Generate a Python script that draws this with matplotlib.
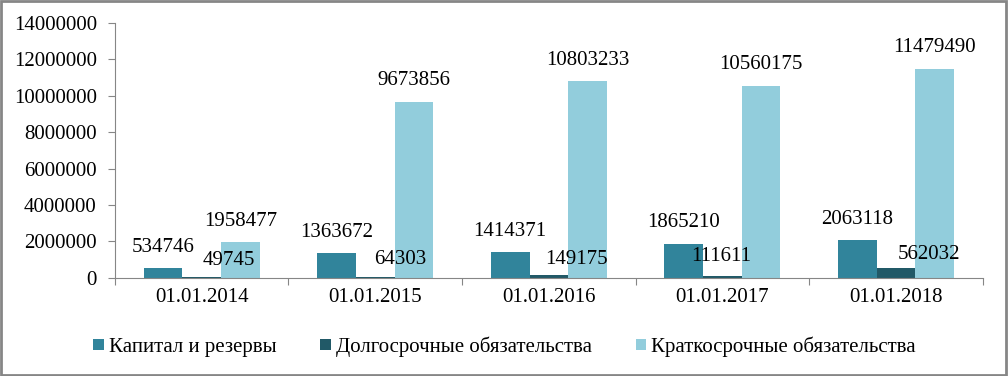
import numpy as np
import matplotlib.pyplot as plt
from matplotlib.ticker import FixedLocator, NullFormatter

# ======================
# Data
# ======================
dates = ["01.01.2014", "01.01.2015", "01.01.2016", "01.01.2017", "01.01.2018"]
capital = [534746, 1363672, 1414371, 1865210, 2063118]
long_term = [49745, 64303, 149175, 111611, 562032]
short_term = [1958477, 9673856, 10803233, 10560175, 11479490]
series_names = ["Капитал и резервы", "Долгосрочные обязательства", "Краткосрочные обязательства"]

# label nudges for the long-term series (pixels), as placed in the source chart
lt_dx = [27, 25, 28, -1, 33]
lt_dy = [16, 17, 16, 19, 13]

colors = ["#31849B", "#215967", "#92CDDC"]

plt.rcParams['font.family'] = ['Liberation Serif', 'DejaVu Serif']
FS = 15

fig = plt.figure(figsize=(10.08, 3.76), dpi=100)
ax = fig.add_axes([0.114, 0.261, 0.861, 0.678])

x = np.arange(len(dates))
w = 0.223
b1 = ax.bar(x - w, capital, w, color=colors[0], label=series_names[0])
b2 = ax.bar(x, long_term, w, color=colors[1], label=series_names[1])
b3 = ax.bar(x + w, short_term, w, color=colors[2], label=series_names[2])

for bars in (b1, b3):
    for r in bars:
        ax.annotate(f"{int(r.get_height())}", (r.get_x() + r.get_width() / 2, r.get_height()),
                    xytext=(0, 21), textcoords='offset pixels', ha='center', va='center', fontsize=FS)
for r, dx, dy in zip(b2, lt_dx, lt_dy):
    ax.annotate(f"{int(r.get_height())}", (r.get_x() + r.get_width() / 2, r.get_height()),
                xytext=(dx, dy), textcoords='offset pixels', ha='center', va='center', fontsize=FS)

ax.set_xlim(-0.5, len(dates) - 0.5)
ax.set_ylim(0, 14000000)
ax.set_yticks(np.arange(0, 14000001, 2000000))
ax.set_yticklabels([f"{v}" for v in range(0, 14000001, 2000000)], fontsize=FS)

ax.xaxis.set_major_locator(FixedLocator(np.arange(-0.5, len(dates), 1.0)))
ax.xaxis.set_major_formatter(NullFormatter())
ax.xaxis.set_minor_locator(FixedLocator(x))
ax.set_xticklabels(dates, minor=True, fontsize=FS)
ax.tick_params(axis='x', which='major', length=5, color='#868686', direction='out')
ax.tick_params(axis='x', which='minor', length=0, pad=7)
ax.tick_params(axis='y', length=5, color='#868686', pad=8)

for s in ('top', 'right'):
    ax.spines[s].set_visible(False)
for s in ('left', 'bottom'):
    ax.spines[s].set_color('#868686')

ax.legend(loc='center', bbox_to_anchor=(0.449, -0.27), ncol=3, frameon=False,
          fontsize=FS, handlelength=0.5, handleheight=0.5, handletextpad=0.25, columnspacing=2.1)

# outer border
fig.patches.append(plt.Rectangle((0.001, 0.002), 0.997, 0.995, transform=fig.transFigure,
                                 fill=False, edgecolor='#868686', linewidth=2))

fig.savefig("out.png", dpi=100)
